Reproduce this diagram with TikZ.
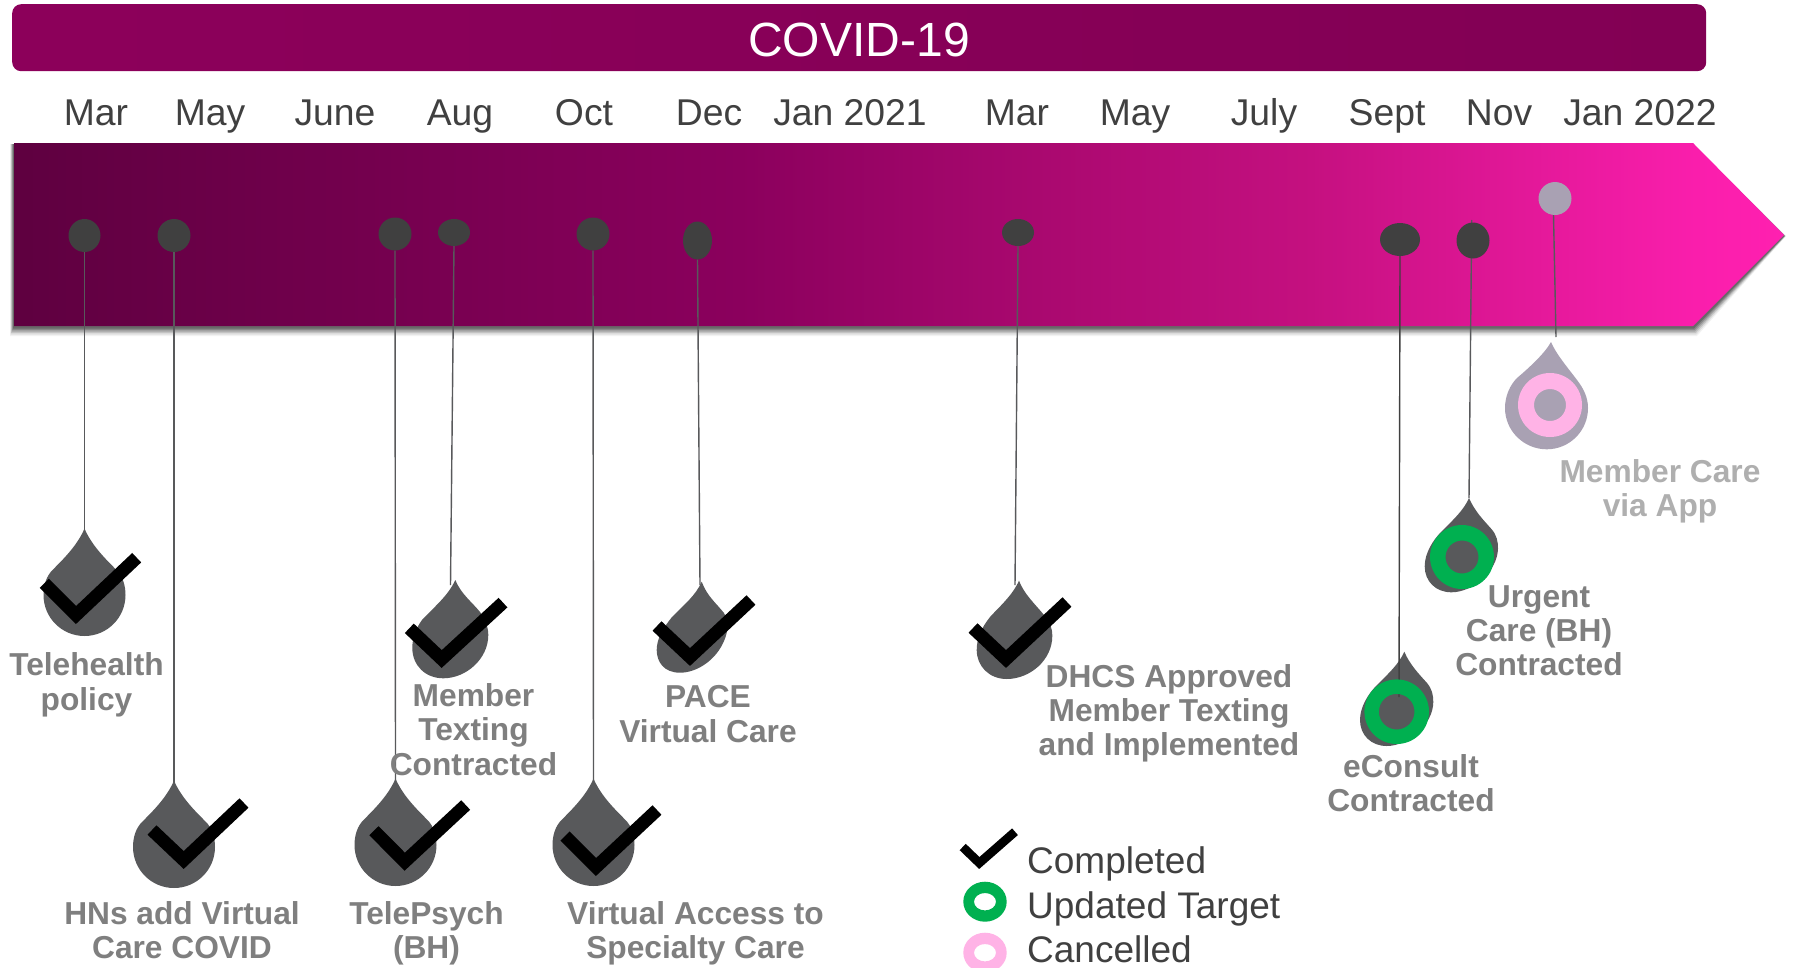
\documentclass[tikz,border=0pt]{standalone}
\usepackage{fontspec}
\setmainfont{Liberation Sans}
\usetikzlibrary{calc,shapes.geometric}
\definecolor{monthc}{HTML}{404040}
\definecolor{lblc}{HTML}{7F7F7F}
\definecolor{lblf}{HTML}{AFAFAF}
\definecolor{dropc}{HTML}{58595B}
\definecolor{dotc}{HTML}{404040}
\definecolor{fadec}{HTML}{A9A1B3}
\definecolor{ringg}{HTML}{00B050}
\definecolor{ringp}{HTML}{FFB3E6}
\pgfdeclarehorizontalshading{barshade}{100bp}{
 rgb(0bp)=(0.37,0,0.25);
 rgb(25bp)=(0.37,0,0.25);
 rgb(45.5bp)=(0.545,0,0.365);
 rgb(61.5bp)=(0.77,0.063,0.5);
 rgb(72.5bp)=(0.98,0.118,0.675);
 rgb(75bp)=(1,0.125,0.69);
 rgb(100bp)=(1,0.125,0.69)}
\pgfdeclarehorizontalshading{topshade}{100bp}{
 rgb(0bp)=(0.55,0,0.355);
 rgb(25bp)=(0.55,0,0.355);
 rgb(75bp)=(0.51,0,0.33);
 rgb(100bp)=(0.51,0,0.33)}
\newcommand{\sv}{\vphantom{Tp}}
\tikzset{
 x=1bp,y=-1bp,
 month/.style={font=\fontsize{37.3bp}{40bp}\selectfont,text=monthc,anchor=base,inner sep=0pt},
 lbl/.style={font=\fontsize{31.7bp}{34.3bp}\selectfont\bfseries,text=lblc,align=center,inner sep=0pt},
 lblfade/.style={lbl,text=lblf},
 legendtxt/.style={font=\fontsize{37bp}{40bp}\selectfont,text=monthc,anchor=base west,inner sep=0pt},
 dotn/.style={fill=dotc,ellipse,inner sep=0pt,draw=none},
 stem/.style={draw=dropc,line width=1.4bp},
 tick/.style={draw=black,line width=13bp,miter limit=10},
 legtick/.style={draw=black,line width=8.8bp,miter limit=10},
 pics/drop/.style={code={
  \fill[#1] (0,-1.5) .. controls (-7,15) and (-20,28) .. (-32,40)
    .. controls (-38,46) and (-41,55) .. (-41,65)
    arc[start angle=180,end angle=360,x radius=41,y radius=-41]
    .. controls (41,55) and (38,46) .. (32,40)
    .. controls (20,28) and (7,15) .. (0,-1.5) -- cycle;
 }},
}
\newcommand{\ringat}[5]{%
 \path[fill=#4,even odd rule] (#1,#2) circle[radius=#3] (#1,#2) circle[radius=#5];}
\begin{document}
\begin{tikzpicture}
\useasboundingbox (0,0) rectangle (1793,967.2);
\fill[white] (0,0) rectangle (1793,967.2);
% title
\node[inner sep=0pt,minimum width=1694bp,minimum height=67bp,rounded corners=9bp,shading=topshade,anchor=north west] (title) at (12,4) {};
\node[font=\fontsize{48bp}{50bp}\selectfont,text=white,inner sep=0pt,anchor=base] (titletxt) at (859,56) {COVID-19};
% months
\foreach \mx/\mt [count=\i] in {96/Mar,210/May,335/June,460/Aug,584/Oct,709/Dec,850/Jan 2021,1017/Mar,1135/May,1264/July,1387/Sept,1499/Nov,1640/Jan 2022}{
 \node[month] (m\i) at (\mx,125) {\mt};
}
% bar shadow
\foreach \o/\op in {10/0.05,8.5/0.08,7/0.12,5.5/0.15,4/0.18,2.5/0.22}{
 \fill[black,opacity=\op] (14-\o*0.4,143+1) -- (1693,143+1) -- (1784+\o*0.2,235+1) -- (1693+\o*0.4,326+\o) -- (14-\o*0.4,326+\o) -- cycle;
}
\path[shading=barshade] (14,143) -- (1693,143) -- (1784,235) -- (1693,326) -- (14,326) -- cycle;
% connector ends
\coordinate (t1) at (84.5,530);
\coordinate (t2) at (174,782);
\coordinate (t3) at (395.5,780);
\coordinate (t4) at (450.5,585);
\coordinate (t5) at (593.5,780);
\coordinate (t6) at (700,585);
\coordinate (t7) at (1015,585);
\coordinate (t8) at (1399,697);
\coordinate (t9) at (1469,498);
\coordinate (t10) at (1556,337);
\coordinate (s9) at (1471.7,220);
% dots
\draw[stem] (s9) -- (t9);
\node[dotn,minimum width=32bp,minimum height=33bp] (d1) at (84.5,235.5) {};
\node[dotn,minimum width=33bp,minimum height=33bp] (d2) at (174,235.5) {};
\node[dotn,minimum width=33bp,minimum height=33bp] (d3) at (395,234) {};
\node[dotn,minimum width=32bp,minimum height=27bp] (d4) at (454,232.5) {};
\node[dotn,minimum width=33bp,minimum height=33bp] (d5) at (593,234) {};
\node[dotn,minimum width=29bp,minimum height=38bp] (d6) at (697.5,240.5) {};
\node[dotn,minimum width=32bp,minimum height=27bp] (d7) at (1018,232.5) {};
\node[dotn,minimum width=40bp,minimum height=33bp] (d8) at (1400,239.5) {};
\node[dotn,minimum width=33bp,minimum height=36bp] (d9) at (1473,240.5) {};
\node[dotn,fill=fadec,minimum width=33bp,minimum height=33bp] (d10) at (1555,198.5) {};
% stems
\draw[stem] (d1.south) -- (t1);
\draw[stem] (d2.south) -- (t2);
\draw[stem] (d3.south) -- (t3);
\draw[stem] (d4.south) -- (t4);
\draw[stem] (d5.south) -- (t5);
\draw[stem] (d6.south) -- (t6);
\draw[stem] (d7.south) -- (t7);
\draw[stem] ($(d10.south)+(-1.5,0)$) -- (t10);
% drops
\pic at (84.5,530) {drop={dropc}};
\pic at (174,782) {drop={dropc}};
\pic at (395.5,780) {drop={dropc}};
\pic at (593.5,780) {drop={dropc}};
\fill[dropc] (455.3,580) .. controls (461,594) and (472,602) .. (480,612) .. controls (485,619) and (488.3,627) .. (488.3,635) .. controls (488.3,659) and (466,678.3) .. (443.3,678.3) .. controls (425,678.3) and (412.3,665) .. (412.3,648) .. controls (412.3,638) and (416,628) .. (422,620) .. controls (434,607) and (448,596) .. (455.3,580) -- cycle;
\fill[dropc] (701.7,581.7) .. controls (707,596) and (716,603) .. (724,613) .. controls (729,622) and (728,632) .. (724,641) .. controls (716,660) and (697,672.7) .. (680,672.7) .. controls (664,672.7) and (656.7,662) .. (656.7,650) .. controls (656.7,638) and (664,627) .. (672,617) .. controls (684,605) and (696,595) .. (701.7,581.7) -- cycle;
\fill[dropc] (1019,580.7) .. controls (1024,594) and (1035,604) .. (1044,615) .. controls (1050,622) and (1052.3,628) .. (1052.3,636) .. controls (1052.3,660) and (1030,679) .. (1006.7,679) .. controls (989,679) and (976.7,666) .. (976.7,650) .. controls (976.7,638) and (982,627) .. (990,617) .. controls (1000,606) and (1012,596) .. (1019,580.7) -- cycle;
\foreach \dx/\dy in {0/0,64.7/-153.7}{
 \fill[dropc,shift={(\dx,\dy)}] (1404.3,651.7) .. controls (1410,665) and (1419,674) .. (1427,683) .. controls (1432,689) and (1433.3,695) .. (1433.3,702) .. controls (1433,725) and (1408,746) .. (1386.7,746) .. controls (1371,746) and (1360,735) .. (1360,720) .. controls (1360,707) and (1368,694) .. (1377,685) .. controls (1388,674) and (1399,664) .. (1404.3,651.7) -- cycle;
}
\fill[fadec] (1551,342) .. controls (1556,354) and (1568,368) .. (1577,380) .. controls (1584,389) and (1588,398) .. (1588,408) .. controls (1588,431) and (1569.5,449.3) .. (1546.7,449.3) .. controls (1524,449.3) and (1505,431) .. (1505,408) .. controls (1505,396) and (1510,385) .. (1517,378) .. controls (1530,367) and (1545,353) .. (1551,342) -- cycle;
\draw[stem,draw=dotc] (d8.south) -- (t8);
% rings
\ringat{1396.7}{711.7}{32.3}{ringg}{17.8}
\ringat{1462}{557}{32}{ringg}{16.5}
\ringat{1550}{405}{32}{ringp}{16}
% checks
\draw[tick] (44.3,583.3) -- (76,615) -- (136.7,557.7);
\draw[tick] (152,830) -- (183.7,860) -- (244,803);
\draw[tick] (374,830.7) -- (404.7,861.7) -- (465.7,805);
\draw[tick] (409.3,628.3) -- (441.7,659) -- (503,602.6);
\draw[tick] (565,836) -- (596,867) -- (657,810);
\draw[tick] (657,626) -- (690,657) -- (751,600);
\draw[tick] (973,628) -- (1006,659) -- (1067,602);
% labels
\node[lbl] (l1) at (86.5,684.7) {\sv Telehealth\\\sv policy};
\node[lbl] (l2) at (182,933.5) {\sv HNs add Virtual\\\sv Care COVID};
\node[lbl] (l3) at (426.5,933.5) {\sv TelePsych\\\sv (BH)};
\node[lbl] (l4) at (473.5,732.7) {\sv Member\\Texting\\\sv Contracted};
\node[lbl] (l5) at (708,717.3) {\sv PACE\\\sv Virtual Care};
\node[lbl] (l6) at (695.5,933.5) {\sv Virtual Access to\\\sv Specialty Care};
\node[lbl] (l7) at (1169,713.2) {\sv DHCS Approved\\Member Texting\\\sv and Implemented};
\node[lbl] (l8) at (1411,786) {\sv eConsult\\\sv Contracted};
\node[lbl] (l9) at (1539,634) {\sv Urgent\\Care (BH)\\\sv Contracted};
\node[lblfade] (l10) at (1660,491.4) {\sv Member Care\\\sv via App};
% legend
\draw[legtick] (962.7,847) -- (979.3,863) -- (1015,831.7);
\fill[ringg,even odd rule] (985,901.7) ellipse[x radius=21.7,y radius=-20] (985,901.7) ellipse[x radius=11,y radius=-8.7];
\begin{scope}
\clip (0,0) rectangle (1793,969);
\fill[ringp,even odd rule] (985,952.7) ellipse[x radius=21.7,y radius=-20] (985,952.7) ellipse[x radius=11,y radius=-8.7];
\end{scope}
\node[legendtxt] (lg1) at (1027,873) {Completed};
\node[legendtxt] (lg2) at (1027,918) {Updated Target};
\node[legendtxt] (lg3) at (1027,962) {Cancelled};
\end{tikzpicture}
\end{document}
